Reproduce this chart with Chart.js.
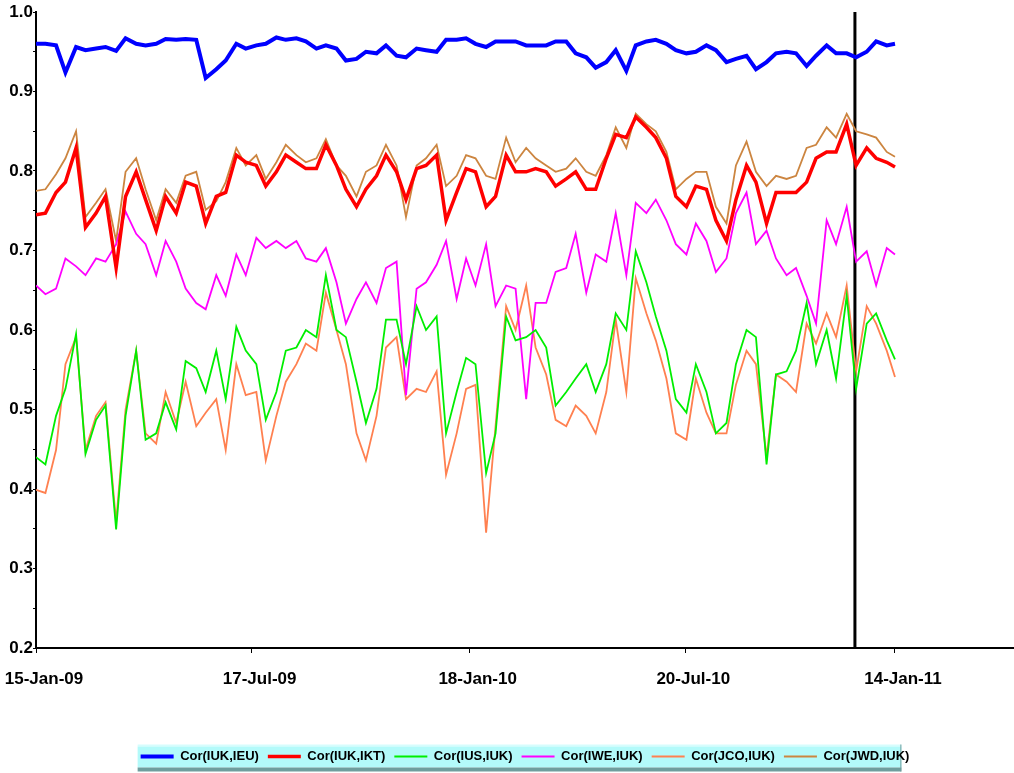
<!DOCTYPE html>
<html>
<head>
<meta charset="utf-8">
<script src="https://cdn.jsdelivr.net/npm/chart.js@4/dist/chart.umd.min.js"></script>
<style>
  html, body { margin: 0; padding: 0; background: #fff; }
  canvas { display: block; }
</style>
</head>
<body>
<canvas id="chart" width="1014" height="773"></canvas>
<script>
// days since 15-Jan-09 of each sample
const days = [0, 8, 17, 25, 34, 42, 51, 59, 68, 76, 85, 93, 102, 110, 119, 127, 136, 144, 153, 161, 170, 178,
  187, 195, 204, 212, 221, 229, 238, 246, 255, 263, 272, 280, 289, 297, 306, 314, 323, 331, 340, 348, 357, 365,
  373, 382, 390, 399, 407, 416, 424, 433, 441, 450, 458, 467, 475, 484, 492, 501, 509, 518, 526, 535, 543, 552,
  560, 569, 577, 586, 594, 603, 611, 620, 628, 637, 645, 654, 662, 671, 679, 688, 696, 705, 713, 722, 729];

const corIukIeu = [0.960, 0.960, 0.958, 0.924, 0.956, 0.952, 0.954, 0.956, 0.951, 0.967, 0.960, 0.958, 0.960, 0.966, 0.965, 0.966, 0.965, 0.917, 0.928, 0.939, 0.960, 0.954,
  0.958, 0.960, 0.968, 0.965, 0.967, 0.963, 0.954, 0.958, 0.954, 0.939, 0.941, 0.950, 0.948, 0.958, 0.945, 0.943, 0.954, 0.952, 0.950, 0.965, 0.965, 0.967,
  0.960, 0.956, 0.963, 0.963, 0.963, 0.958, 0.958, 0.958, 0.963, 0.963, 0.948, 0.943, 0.930, 0.937, 0.952, 0.926, 0.958, 0.963, 0.965, 0.960, 0.952, 0.948,
  0.950, 0.958, 0.952, 0.937, 0.941, 0.945, 0.928, 0.937, 0.948, 0.950, 0.948, 0.932, 0.945, 0.958, 0.948, 0.948, 0.943, 0.950, 0.963, 0.958, 0.960];

const corIukIkt = [0.745, 0.747, 0.773, 0.786, 0.829, 0.729, 0.747, 0.768, 0.678, 0.768, 0.799, 0.764, 0.725, 0.768, 0.747, 0.786, 0.781, 0.734, 0.768, 0.773, 0.820, 0.811,
  0.807, 0.781, 0.799, 0.820, 0.811, 0.803, 0.803, 0.833, 0.807, 0.777, 0.755, 0.777, 0.794, 0.820, 0.799, 0.764, 0.803, 0.807, 0.820, 0.738, 0.773, 0.803,
  0.799, 0.755, 0.768, 0.820, 0.799, 0.799, 0.803, 0.799, 0.781, 0.790, 0.799, 0.777, 0.777, 0.816, 0.846, 0.842, 0.868, 0.855, 0.842, 0.816, 0.768, 0.755,
  0.781, 0.777, 0.738, 0.712, 0.764, 0.807, 0.786, 0.734, 0.773, 0.773, 0.773, 0.786, 0.816, 0.824, 0.824, 0.859, 0.807, 0.829, 0.816, 0.811, 0.805];

const corIusIuk = [0.440, 0.431, 0.492, 0.526, 0.595, 0.444, 0.487, 0.505, 0.349, 0.492, 0.574, 0.462, 0.470, 0.509, 0.475, 0.561, 0.552, 0.522, 0.574, 0.513, 0.604, 0.574,
  0.557, 0.487, 0.522, 0.574, 0.578, 0.600, 0.591, 0.669, 0.600, 0.591, 0.535, 0.483, 0.526, 0.613, 0.613, 0.557, 0.630, 0.600, 0.617, 0.470, 0.522, 0.565,
  0.557, 0.420, 0.470, 0.617, 0.587, 0.591, 0.600, 0.578, 0.505, 0.522, 0.539, 0.557, 0.522, 0.557, 0.621, 0.600, 0.699, 0.660, 0.617, 0.574, 0.513, 0.496,
  0.557, 0.522, 0.470, 0.483, 0.557, 0.600, 0.591, 0.431, 0.544, 0.548, 0.574, 0.634, 0.557, 0.600, 0.539, 0.643, 0.526, 0.608, 0.621, 0.587, 0.563];

const corIweIuk = [0.656, 0.645, 0.652, 0.690, 0.680, 0.669, 0.690, 0.686, 0.708, 0.749, 0.721, 0.708, 0.669, 0.712, 0.686, 0.652, 0.634, 0.626, 0.669, 0.643, 0.695, 0.669,
  0.716, 0.703, 0.712, 0.703, 0.712, 0.690, 0.686, 0.703, 0.660, 0.608, 0.639, 0.660, 0.634, 0.678, 0.686, 0.518, 0.652, 0.660, 0.682, 0.712, 0.639, 0.690,
  0.656, 0.708, 0.630, 0.656, 0.652, 0.513, 0.634, 0.634, 0.673, 0.678, 0.721, 0.647, 0.695, 0.686, 0.747, 0.669, 0.760, 0.747, 0.764, 0.738, 0.708, 0.695,
  0.734, 0.712, 0.673, 0.690, 0.747, 0.773, 0.708, 0.725, 0.690, 0.669, 0.678, 0.643, 0.608, 0.738, 0.708, 0.755, 0.686, 0.699, 0.656, 0.703, 0.695];

const corJcoIuk = [0.399, 0.395, 0.449, 0.557, 0.591, 0.449, 0.492, 0.509, 0.358, 0.500, 0.574, 0.470, 0.457, 0.522, 0.483, 0.535, 0.479, 0.496, 0.513, 0.449, 0.557, 0.518,
  0.522, 0.436, 0.492, 0.535, 0.557, 0.583, 0.574, 0.647, 0.600, 0.557, 0.470, 0.436, 0.492, 0.578, 0.591, 0.513, 0.526, 0.522, 0.548, 0.418, 0.470, 0.526,
  0.531, 0.345, 0.479, 0.630, 0.600, 0.656, 0.578, 0.544, 0.487, 0.479, 0.505, 0.492, 0.470, 0.522, 0.613, 0.522, 0.665, 0.621, 0.587, 0.539, 0.470, 0.462,
  0.539, 0.496, 0.470, 0.470, 0.531, 0.574, 0.557, 0.440, 0.544, 0.535, 0.522, 0.608, 0.583, 0.621, 0.591, 0.656, 0.548, 0.630, 0.608, 0.574, 0.541];

const corJwdIuk = [0.775, 0.777, 0.796, 0.816, 0.850, 0.742, 0.760, 0.777, 0.712, 0.799, 0.816, 0.777, 0.738, 0.777, 0.760, 0.794, 0.799, 0.751, 0.762, 0.786, 0.829, 0.807,
  0.820, 0.790, 0.811, 0.833, 0.820, 0.811, 0.816, 0.840, 0.807, 0.794, 0.768, 0.799, 0.807, 0.833, 0.807, 0.742, 0.807, 0.816, 0.833, 0.781, 0.794, 0.820,
  0.816, 0.794, 0.790, 0.842, 0.811, 0.829, 0.816, 0.807, 0.799, 0.803, 0.816, 0.799, 0.794, 0.820, 0.855, 0.829, 0.872, 0.859, 0.850, 0.824, 0.777, 0.790,
  0.799, 0.799, 0.755, 0.734, 0.807, 0.837, 0.799, 0.781, 0.794, 0.790, 0.794, 0.829, 0.833, 0.855, 0.842, 0.872, 0.850, 0.846, 0.842, 0.824, 0.818];

const seriesLabels = ["Cor(IUK,IEU)", "Cor(IUK,IKT)", "Cor(IUS,IUK)", "Cor(IWE,IUK)", "Cor(JCO,IUK)", "Cor(JWD,IUK)"];
const tickDays = [0, 183, 368, 551, 729];
const tickLabels = ["15-Jan-09", "17-Jul-09", "18-Jan-10", "20-Jul-10", "14-Jan-11"];
const markerDay = [695];

const fontFamily = "'Liberation Sans', Arial, sans-serif";

function toPoints(values) {
  return values.map((v, i) => ({ x: days[i], y: v }));
}

function line(label, values, color, width) {
  return {
    label: label,
    data: toPoints(values),
    borderColor: color,
    backgroundColor: color,
    borderWidth: width,
    pointRadius: 0,
    tension: 0,
    fill: false,
  };
}

// fondo blanco y caja de la leyenda
const backgroundPlugin = {
  id: "backgroundPlugin",
  beforeDraw(chart) {
    const { ctx } = chart;
    ctx.save();
    ctx.fillStyle = "#ffffff";
    ctx.fillRect(0, 0, chart.width, chart.height);
    const boxes = chart.legend && chart.legend.legendHitBoxes;
    if (boxes && boxes.length) {
      const first = boxes[0];
      const last = boxes[boxes.length - 1];
      const cy = first.top + first.height / 2;
      const left = first.left - 3;
      const right = last.left + last.width - 8;
      ctx.fillStyle = "#d6fdfd";
      ctx.fillRect(left, cy - 12, right - left, 2);
      ctx.fillStyle = "#b3fafa";
      ctx.fillRect(left, cy - 10, right - left, 21);
      ctx.fillStyle = "#6f9e9e";
      ctx.fillRect(left, cy + 11, right - left, 4);
      ctx.fillRect(right - 1, cy - 12, 1, 27);
    }
    ctx.restore();
  },
};

const datasets = [
  line(seriesLabels[0], corIukIeu, "#0000ff", 4),
  line(seriesLabels[1], corIukIkt, "#ff0000", 3.5),
  line(seriesLabels[2], corIusIuk, "#00ee00", 1.8),
  line(seriesLabels[3], corIweIuk, "#ff00ff", 1.8),
  line(seriesLabels[4], corJcoIuk, "#ff8050", 1.8),
  line(seriesLabels[5], corJwdIuk, "#cc8540", 1.8),
  {
    label: "marker",
    data: [{ x: markerDay[0], y: 0.2 }, { x: markerDay[0], y: 1.0 }],
    borderColor: "#000000",
    borderWidth: 3,
    pointRadius: 0,
  },
];

new Chart(document.getElementById("chart"), {
  type: "line",
  data: { datasets: datasets },
  options: {
    responsive: false,
    animation: false,
    devicePixelRatio: 1,
    layout: { padding: { top: 12, right: 0, left: 0, bottom: 0 } },
    plugins: {
      legend: {
        position: "bottom",
        fullSize: false,
        labels: {
          usePointStyle: true,
          pointStyle: "line",
          pointStyleWidth: 33,
          padding: 9,
          color: "#000",
          font: { family: fontFamily, size: 13, weight: "bold" },
          filter: (item) => item.text !== "marker",
        },
      },
      tooltip: { enabled: false },
    },
    scales: {
      x: {
        type: "linear",
        min: 0,
        max: 830,
        afterBuildTicks: (scale) => {
          scale.ticks = tickDays.map((d) => ({ value: d }));
        },
        afterFit: (scale) => {
          scale.height = 93;
          scale.paddingLeft = 0;
          scale.paddingRight = 0;
        },
        ticks: {
          autoSkip: false,
          maxRotation: 0,
          labelOffset: 8,
          padding: 16,
          color: "#000",
          font: { family: fontFamily, size: 17, weight: "bold" },
          callback: (v) => {
            const i = tickDays.indexOf(v);
            return i >= 0 ? tickLabels[i] : "";
          },
        },
        grid: { drawOnChartArea: false, tickLength: 5, color: "#000", lineWidth: 1 },
        border: { color: "#000", width: 2 },
      },
      y: {
        min: 0.2,
        max: 1.0,
        afterFit: (scale) => {
          scale.width = 36;
          scale.paddingTop = 0;
          scale.paddingBottom = 0;
        },
        ticks: {
          stepSize: 0.05,
          padding: 0,
          color: "#000",
          font: { family: fontFamily, size: 17, weight: "bold" },
          callback: (v) => {
            const r = Math.round(v * 100);
            return r % 10 === 0 ? (r / 100).toFixed(1) : "";
          },
        },
        grid: { drawOnChartArea: false, tickLength: 3, color: "#000", lineWidth: 1 },
        border: { color: "#000", width: 2 },
      },
    },
  },
  plugins: [backgroundPlugin],
});
</script>
</body>
</html>
